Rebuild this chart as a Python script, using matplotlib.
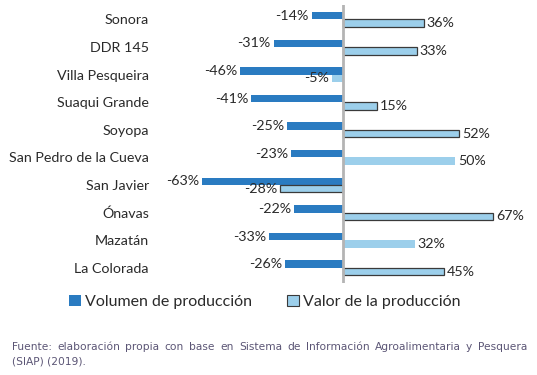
"""Volumen y valor de la producción por municipio."""
import matplotlib
matplotlib.use('Agg')
from matplotlib import pyplot as plt
from matplotlib.patches import Patch

municipios = ['Sonora', 'DDR 145', 'Villa Pesqueira', 'Suaqui Grande',
              'Soyopa', 'San Pedro de la Cueva', 'San Javier', 'Ónavas',
              'Mazatán', 'La Colorada']
volumen = [-14, -31, -46, -41, -25, -23, -63, -22, -33, -26]
valor = [36, 33, -5, 15, 52, 50, -28, 67, 32, 45]
valor_con_borde = [True, True, False, True, True, False, True, True, False, True]

fuente_1 = ('Fuente: elaboración propia con base en Sistema de Información '
            'Agroalimentaria y Pesquera')
fuente_2 = '(SIAP) (2019).'

dark = '#2a7bc1'
light = '#9ccfeb'

plt.rcParams['font.family'] = ['Lato', 'DejaVu Sans']
plt.rcParams['text.color'] = '#2a2a2a'
plt.rcParams['ytick.color'] = '#2a2a2a'

fig = plt.figure(figsize=(5.37, 3.75), dpi=100)
W, H = 537, 375
# axes placed in pixel coordinates of the reference
x0, x1, y0, y1 = 160, 530, 5, 283
ax = fig.add_axes([x0 / W, 1 - y1 / H, (x1 - x0) / W, (y1 - y0) / H])

px_per_pct = 2.24
zero = 343
ax.set_xlim(-(zero - x0) / px_per_pct, (x1 - zero) / px_per_pct)
ax.set_ylim(9.55, -0.525)

h = 0.27
pos = list(range(len(municipios)))
ax.barh([p - h / 2 for p in pos], volumen, height=h, color=dark)
for p, v, edge in zip(pos, valor, valor_con_borde):
    ax.barh(p + h / 2, v, height=h, color=light,
            edgecolor='#3a3a3a' if edge else 'none', linewidth=0.9)

for p, v in zip(pos, volumen):
    ax.text(v - 1.3, p - h / 2, f'{v}%', ha='right', va='center',
            fontsize=10.3)
for p, v in zip(pos, valor):
    if v >= 0:
        ax.text(v + 1.3, p + h / 2, f'{v}%', ha='left', va='center',
                fontsize=10.3)
    else:
        ax.text(v - 1.3, p + h / 2, f'{v}%', ha='right', va='center',
                fontsize=10.3)

ax.axvline(0, color='#b4b4b4', linewidth=2)
ax.set_yticks(pos)
ax.set_yticklabels(municipios, fontsize=10.3)
ax.tick_params(axis='y', length=0, pad=8)
ax.set_xticks([])
for s in ax.spines.values():
    s.set_visible(False)

handles = [Patch(facecolor=dark, edgecolor='none'),
           Patch(facecolor=light, edgecolor='#3a3a3a', linewidth=0.8)]
fig.legend(handles, ['Volumen de producción', 'Valor de la producción'],
           loc='center', bbox_to_anchor=(265 / W, 1 - 302 / H), ncol=2,
           frameon=False, fontsize=11.5, handlelength=0.75, handleheight=0.75,
           handletextpad=0.25, columnspacing=2.2)

# justified first line of the source note
fig.canvas.draw()
renderer = fig.canvas.get_renderer()
words = fuente_1.split(' ')
style = dict(fontsize=7.7, color='#5b5575', va='center', ha='left',
             family='DejaVu Sans')
objs = [fig.text(0, 1 - 347 / H, w, **style) for w in words]
widths = [o.get_window_extent(renderer).width for o in objs]
left, right = 12, 527
gap = (right - left - sum(widths)) / (len(words) - 1)
xpos = left
for o, wd in zip(objs, widths):
    o.set_x(xpos / W)
    xpos += wd + gap
fig.text(left / W, 1 - 361 / H, fuente_2, **style)

fig.savefig('out.png', dpi=100)
